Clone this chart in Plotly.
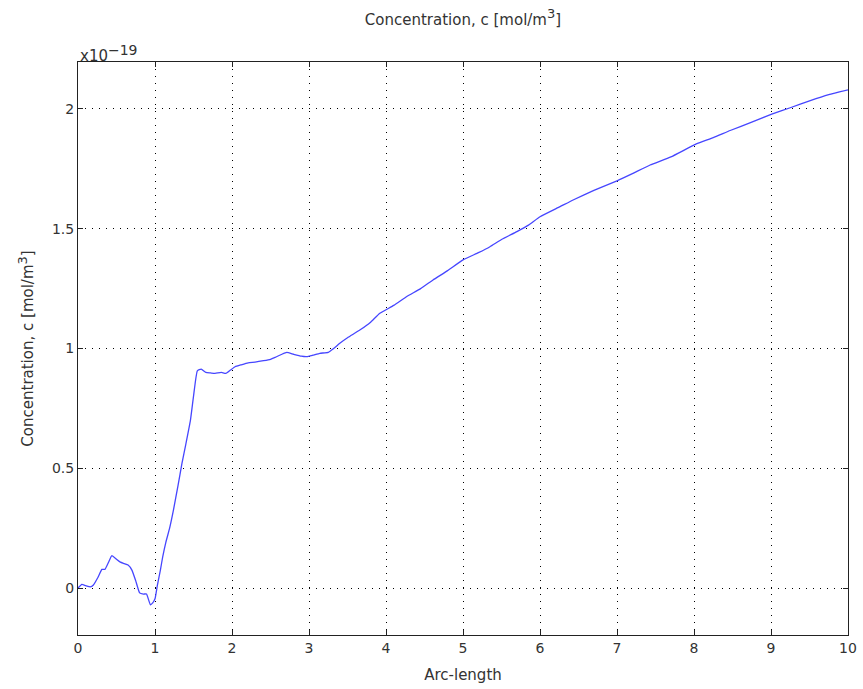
import plotly.graph_objects as go

# Concentration along the arc (values in units of 1e-19 mol/m^3)
arc_length = [
    0, 0.05, 0.1, 0.16, 0.2, 0.26, 0.31, 0.35, 0.4, 0.44, 0.5, 0.55, 0.6, 0.65,
    0.7, 0.75, 0.8, 0.85, 0.89, 0.94, 0.97, 1.0, 1.03, 1.07, 1.1, 1.14, 1.19,
    1.24, 1.3, 1.35, 1.4, 1.46, 1.5, 1.55, 1.6, 1.66, 1.72, 1.78, 1.86, 1.92,
    1.98, 2.04, 2.12, 2.21, 2.3, 2.41, 2.5, 2.56, 2.64, 2.71, 2.8, 2.9, 2.97,
    3.05, 3.14, 3.25, 3.32, 3.4, 3.5, 3.66, 3.8, 3.92, 4.1, 4.27, 4.45, 4.61,
    4.8, 5.0, 5.2, 5.35, 5.5, 5.7, 5.85, 6.0, 6.26, 6.43, 6.7, 7.0, 7.2, 7.43,
    7.7, 8.03, 8.25, 8.47, 8.75, 9.01, 9.25, 9.51, 9.75, 10.0,
]
concentration = [
    0.0, 0.015, 0.01, 0.005, 0.013, 0.045, 0.078, 0.078, 0.11, 0.135, 0.12,
    0.108, 0.102, 0.096, 0.075, 0.03, -0.02, -0.025, -0.025, -0.07, -0.062,
    -0.045, 0.01, 0.075, 0.13, 0.19, 0.25, 0.326, 0.43, 0.52, 0.6, 0.70, 0.8,
    0.907, 0.914, 0.90, 0.898, 0.896, 0.90, 0.896, 0.91, 0.924, 0.932, 0.94,
    0.943, 0.949, 0.955, 0.963, 0.975, 0.984, 0.976, 0.968, 0.966, 0.972,
    0.98, 0.984, 1.0, 1.022, 1.045, 1.077, 1.11, 1.147, 1.18, 1.217, 1.25,
    1.286, 1.325, 1.37, 1.40, 1.425, 1.455, 1.488, 1.515, 1.55, 1.592, 1.62,
    1.66, 1.70, 1.73, 1.766, 1.80, 1.854, 1.88, 1.91, 1.945, 1.978, 2.005,
    2.035, 2.06, 2.08,
]

x_ticks = list(range(0, 11))
y_ticks = [0, 0.5, 1, 1.5, 2]
y_tick_text = ["0", "0.5", "1", "1.5", "2"]

font_family = "DejaVu Sans"
text_color = "#333333"
label_size = 15
tick_size = 14

# superscripts drawn near full size
big_sup = "<sup><span style='font-size:{}px'>{}</span></sup>"
label_text = "Concentration, c [mol/m" + big_sup.format(13, "3") + "]"

fig = go.Figure(
    go.Scatter(
        x=arc_length,
        y=concentration,
        mode="lines",
        line=dict(color="#4646ff", width=1.3, shape="spline", smoothing=0.4),
        showlegend=False,
    )
)

axis_common = dict(
    showline=True,
    linecolor="#222222",
    linewidth=1,
    mirror="allticks",
    ticks="inside",
    ticklen=5,
    tickcolor="#222222",
    showgrid=True,
    gridcolor="#000000",
    gridwidth=1,
    griddash="1px,6px",
    zeroline=False,
    automargin=False,
    tickfont=dict(family=font_family, size=tick_size, color=text_color),
)

fig.update_xaxes(
    range=[0, 10],
    tickvals=x_ticks,
    title=dict(text="Arc-length",
               font=dict(family=font_family, size=label_size, color=text_color),
               standoff=14),
    **axis_common,
)
fig.update_yaxes(
    range=[-0.196, 2.196],
    tickvals=y_ticks,
    ticktext=y_tick_text,
    title=dict(text=label_text,
               font=dict(family=font_family, size=label_size, color=text_color),
               standoff=14),
    **axis_common,
)

fig.update_layout(
    width=863,
    height=689,
    margin=dict(l=78, r=15, t=62, b=54),
    paper_bgcolor="white",
    plot_bgcolor="white",
    title=dict(
        text=label_text,
        font=dict(family=font_family, size=label_size, color=text_color),
        x=0.5365, xanchor="center", y=0.972, yanchor="middle",
    ),
    annotations=[
        dict(
            text="x10" + big_sup.format(14, "−19"),
            xref="paper", yref="paper", x=0, y=1.0,
            xanchor="left", yanchor="bottom", showarrow=False,
            yshift=-5,
            font=dict(family=font_family, size=15, color=text_color),
        )
    ],
)

fig.write_html("out.html")
